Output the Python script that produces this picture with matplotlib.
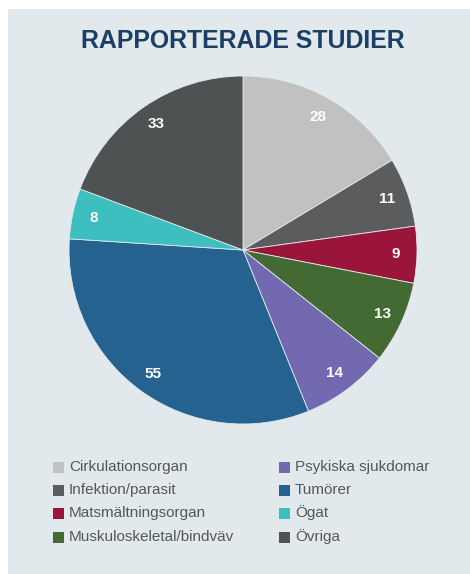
import matplotlib
matplotlib.use("Agg")
import matplotlib.pyplot as plt
from matplotlib.patches import Rectangle

plt.rcParams['font.family'] = ['Liberation Sans', 'DejaVu Sans']

title = "RAPPORTERADE STUDIER"
categories = ["Cirkulationsorgan", "Infektion/parasit", "Matsmältningsorgan",
              "Muskuloskeletal/bindväv", "Psykiska sjukdomar", "Tumörer", "Ögat", "Övriga"]
values = [28, 11, 9, 13, 14, 55, 8, 33]
colors = ["#c1c1c1", "#5a5c5e", "#9a1539", "#436a33", "#7369b0", "#26628f", "#3dbfbf", "#4f5253"]

W, H = 470, 574
fig = plt.figure(figsize=(W / 100, H / 100), dpi=100, facecolor="white")
fig.patches.append(Rectangle((8 / W, 0), 1 - 8 / W, (H - 9) / H, transform=fig.transFigure,
                             facecolor="#e2e9ec", edgecolor="none", zorder=-5))

cx, cy, r = 243, 250, 174
ax = fig.add_axes([(cx - r) / W, (H - cy - r) / H, 2 * r / W, 2 * r / H])
ax.set_zorder(1)
ax.set_facecolor("none")
wedges, texts = ax.pie(values, colors=colors, startangle=90, counterclock=False,
                       labels=[str(v) for v in values], labeldistance=0.88,
                       wedgeprops=dict(linewidth=0.6, edgecolor="#e2e9ec"),
                       textprops=dict(color="white", fontsize=11, fontweight="bold"))
for t in texts:
    t.set_horizontalalignment("center")
    t.set_verticalalignment("center")
ax.set_xlim(-1, 1)
ax.set_ylim(-1, 1)
ax.axis("off")

fig.text(cx / W, 1 - 41 / H, title, ha="center", va="center", fontsize=17.9,
         fontweight="bold", color="#1b3f66")

# legend
rows_y = [467, 490, 513, 537]
cols_x = [53, 279]
for i, (cat, col) in enumerate(zip(categories, colors)):
    c, rr = divmod(i, 4)
    x0, y0 = cols_x[c], rows_y[rr]
    fig.patches.append(Rectangle((x0 / W, (H - y0 - 5.5) / H), 11 / W, 11 / H,
                                 transform=fig.transFigure, facecolor=col,
                                 edgecolor="none", zorder=2))
    fig.text((x0 + 16) / W, 1 - y0 / H, cat, ha="left", va="center",
             fontsize=11, color="#555759")

fig.savefig("out.png", dpi=100, facecolor="white")
